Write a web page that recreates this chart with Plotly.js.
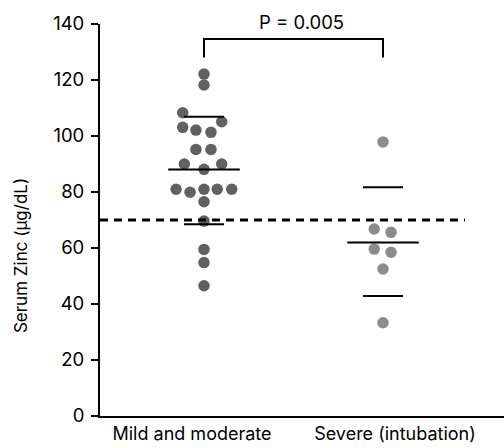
<!DOCTYPE html>
<html>
<head>
<meta charset="utf-8">
<script src="https://cdn.plot.ly/plotly-3.0.1.min.js"></script>
<style>html,body{margin:0;padding:0;background:#fff;}#chart{width:504px;height:448px;}</style>
</head>
<body>
<div id="chart"></div>
<script>
// Categories and their x positions (1, 2)
const categories = ["Mild and moderate", "Severe (intubation)"];
const groupPos = [1, 2];

// Serum zinc values (µg/dL)
const mildValues = [122.1, 118.2, 108.3, 105.1, 103.1, 102.1, 101.3, 95.2, 95.2, 90.0, 90.0,
                    88.1, 81.0, 79.9, 81.0, 81.0, 81.0, 76.5, 69.6, 59.5, 54.8, 46.5];
const mildJitter = [0, 0, -0.119, 0.099, -0.119, -0.045, 0.039, -0.045, 0.039, -0.110, 0.099,
                    0, -0.156, -0.078, 0, 0.074, 0.155, 0, 0, 0, 0, 0];
const severeValues = [97.9, 66.8, 65.6, 59.6, 58.5, 52.5, 33.3];
const severeJitter = [0, -0.049, 0.045, -0.049, 0.045, 0, 0];

// Summary lines: mean and mean ± SD
const means = [88.0, 62.0];
const sdUpper = [106.9, 81.7];
const sdLower = [68.5, 42.9];

// Reference threshold and significance
const threshold = 70;
const pText = "P = 0.005";
const yTicks = [0, 20, 40, 60, 80, 100, 120, 140];

const FONT = 'Inter, "Liberation Sans", Arial, sans-serif';
const meanHalf = 0.2, sdHalf = 0.112;

const traces = [];
traces.push({
  type: 'scatter', mode: 'markers',
  x: mildValues.map((v, i) => groupPos[0] + mildJitter[i]), y: mildValues,
  marker: {size: 11.5, color: '#616161', line: {width: 0}}, hoverinfo: 'skip'
});
traces.push({
  type: 'scatter', mode: 'markers',
  x: severeValues.map((v, i) => groupPos[1] + severeJitter[i]), y: severeValues,
  marker: {size: 11.5, color: '#8c8c8c', line: {width: 0}}, hoverinfo: 'skip'
});
// mean and SD lines
groupPos.forEach((g, i) => {
  traces.push({type: 'scatter', mode: 'lines', x: [g - meanHalf, g + meanHalf], y: [means[i], means[i]],
    line: {color: '#000', width: 2}, hoverinfo: 'skip'});
  traces.push({type: 'scatter', mode: 'lines', x: [g - sdHalf, g + sdHalf], y: [sdUpper[i], sdUpper[i]],
    line: {color: '#000', width: 2}, hoverinfo: 'skip'});
  traces.push({type: 'scatter', mode: 'lines', x: [g - sdHalf, g + sdHalf], y: [sdLower[i], sdLower[i]],
    line: {color: '#000', width: 2}, hoverinfo: 'skip'});
});
// threshold dashed line
const xMin = 0.419, xMax = 2.676;
traces.push({type: 'scatter', mode: 'lines', x: [xMin, 2.458], y: [threshold, threshold],
  line: {color: '#000', width: 3, dash: '8px,6px'}, hoverinfo: 'skip'});
// significance bracket
const bracketTop = 134.6, bracketBottom = 128;
traces.push({type: 'scatter', mode: 'lines',
  x: [groupPos[0], groupPos[0], groupPos[1], groupPos[1]],
  y: [bracketBottom, bracketTop, bracketTop, bracketBottom],
  line: {color: '#000', width: 2}, hoverinfo: 'skip'});

const layout = {
  width: 504, height: 448,
  margin: {l: 100, r: 0, t: 24, b: 32, pad: 0},
  paper_bgcolor: '#fff', plot_bgcolor: '#fff',
  showlegend: false,
  font: {family: FONT, size: 18, color: '#000'},
  xaxis: {
    range: [xMin, xMax], showgrid: false, zeroline: false,
    showline: true, linecolor: '#000', linewidth: 2,
    tickvals: [groupPos[0] - 0.067, groupPos[1] + 0.067], ticktext: categories,
    ticks: '', tickfont: {family: FONT, size: 18, color: '#000'}, fixedrange: true
  },
  yaxis: {
    range: [0, 140], showgrid: false, zeroline: false,
    showline: true, linecolor: '#000', linewidth: 2,
    tickvals: yTicks, ticktext: yTicks.map(String),
    ticks: 'outside', ticklen: 7, tickwidth: 2, tickcolor: '#000', ticklabelstandoff: 3,
    tickfont: {family: FONT, size: 18.5, color: '#000'}, fixedrange: true
  },
  annotations: [
    {text: 'Serum Zinc (µg/dL)', xref: 'paper', yref: 'paper', x: -0.196, y: 0.41,
     xanchor: 'center', yanchor: 'middle', textangle: -90, showarrow: false,
     font: {family: FONT, size: 17, color: '#000'}},
    {text: pText, xref: 'x', yref: 'paper', x: 1.547, y: 1.005, xanchor: 'center', yanchor: 'middle',
     showarrow: false, font: {family: FONT, size: 18.5, color: '#000'}}
  ]
};

Plotly.newPlot('chart', traces, layout, {staticPlot: true, displayModeBar: false});
</script>
</body>
</html>
